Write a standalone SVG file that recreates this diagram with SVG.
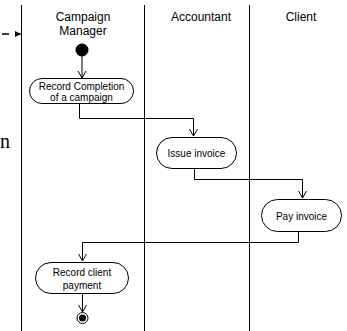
<svg xmlns="http://www.w3.org/2000/svg" width="347" height="331" viewBox="0 0 347 331">
<style>
.lane{stroke:#000;stroke-width:1;fill:none}
.t{font-family:"Liberation Sans",Arial,sans-serif;font-size:12px;fill:#000;text-anchor:middle}
.s{font-family:"Liberation Sans",Arial,sans-serif;font-size:10px;fill:#000;text-anchor:middle}
.box{fill:#fff;stroke:#000;stroke-width:1}
.c{fill:none;stroke:#000;stroke-width:1}
</style>
<defs>
<marker id="ah" markerWidth="10" markerHeight="10" refX="8" refY="5" orient="auto" markerUnits="userSpaceOnUse">
<path d="M1,1 L8,5 L1,9" fill="none" stroke="#000" stroke-width="1"/>
</marker>
<marker id="fh" markerWidth="8" markerHeight="8" refX="6" refY="4" orient="auto" markerUnits="userSpaceOnUse">
<path d="M0,1 L6,4 L0,7 z" fill="#000"/>
</marker>
</defs>
<rect width="347" height="331" fill="#fff"/>
<g id="lanes">
<line class="lane" x1="21.5" y1="5" x2="21.5" y2="331"/>
<line class="lane" x1="144.5" y1="5" x2="144.5" y2="331"/>
<line class="lane" x1="249.5" y1="5" x2="249.5" y2="331"/>
<text class="t" x="83" y="21">Campaign</text>
<text class="t" x="83" y="35">Manager</text>
<text class="t" x="201" y="21">Accountant</text>
<text class="t" x="301" y="21">Client</text>
</g>
<g id="offpage">
<line x1="2" y1="34" x2="9" y2="34" stroke="#000" stroke-width="1.5"/>
<line x1="15" y1="34" x2="21" y2="34" stroke="#000" stroke-width="1" marker-end="url(#fh)"/>
<text x="0" y="148" font-family="'Liberation Serif','Times New Roman',serif" font-size="20" fill="#000">n</text>
</g>
<g id="connectors">
<line class="c" x1="82" y1="56" x2="82" y2="78" marker-end="url(#ah)"/>
<polyline class="c" points="79.5,103 79.5,118.5 193.5,118.5 193.5,136" marker-end="url(#ah)"/>
<polyline class="c" points="194.5,168 194.5,179.5 302.5,179.5 302.5,198" marker-end="url(#ah)"/>
<polyline class="c" points="298.5,231 298.5,242.5 82.5,242.5 82.5,261" marker-end="url(#ah)"/>
<line class="c" x1="82.5" y1="293" x2="82.5" y2="312" marker-end="url(#ah)"/>
</g>
<g id="start"><circle cx="82" cy="50" r="6.5" fill="#000"/></g>
<g id="recordCompletion">
<rect class="box" x="29.5" y="78.5" width="104" height="25" rx="12.5"/>
<text class="s" x="81.5" y="89.5">Record Completion</text>
<text class="s" x="81.5" y="100.5">of a campaign</text>
</g>
<g id="issueInvoice">
<rect class="box" x="156.5" y="137.5" width="80" height="31" rx="15.5"/>
<text class="s" x="196.5" y="157">Issue invoice</text>
</g>
<g id="payInvoice">
<rect class="box" x="261.5" y="199.5" width="80" height="32" rx="16"/>
<text class="s" x="301.5" y="219.5">Pay invoice</text>
</g>
<g id="recordPayment">
<rect class="box" x="35.5" y="262.5" width="93" height="31" rx="15.5"/>
<text class="s" x="82" y="276">Record client</text>
<text class="s" x="82" y="288.5">payment</text>
</g>
<g id="end">
<circle cx="82.5" cy="318" r="5.5" fill="#fff" stroke="#000" stroke-width="1"/>
<circle cx="82.5" cy="318" r="3.5" fill="#000"/>
</g>
</svg>
